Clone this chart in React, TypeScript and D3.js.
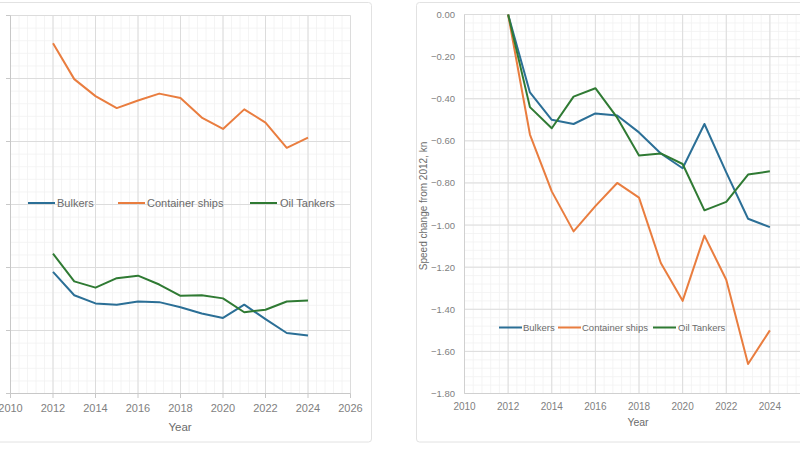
import React from 'react';
import * as d3 from 'd3';

// Years and values
const years = [2012, 2013, 2014, 2015, 2016, 2017, 2018, 2019, 2020, 2021, 2022, 2023, 2024];

// Left chart: average speed, kn (axis labels are cropped out of the picture)
const bulkersSpeed = [10.93, 10.56, 10.43, 10.41, 10.46, 10.45, 10.37, 10.27, 10.2, 10.41, 10.18, 9.96, 9.92];
const containerSpeed = [14.56, 13.99, 13.72, 13.53, 13.65, 13.76, 13.69, 13.38, 13.2, 13.51, 13.3, 12.9, 13.06];
const tankerSpeed = [11.22, 10.78, 10.68, 10.83, 10.87, 10.73, 10.55, 10.56, 10.51, 10.29, 10.33, 10.46, 10.475];

// Right chart: speed change from 2012, kn
const bulkersChange = [0, -0.37, -0.5, -0.52, -0.47, -0.48, -0.56, -0.66, -0.73, -0.52, -0.75, -0.97, -1.01];
const containerChange = [0, -0.57, -0.84, -1.03, -0.91, -0.8, -0.87, -1.18, -1.36, -1.05, -1.26, -1.66, -1.5];
const tankerChange = [0, -0.44, -0.54, -0.39, -0.35, -0.49, -0.67, -0.66, -0.71, -0.93, -0.89, -0.76, -0.745];

const xTicks = [2010, 2012, 2014, 2016, 2018, 2020, 2022, 2024, 2026];
const leftYTicks = [9, 10, 11, 12, 13, 14, 15];
const rightYTicks = [0, -0.2, -0.4, -0.6, -0.8, -1.0, -1.2, -1.4, -1.6, -1.8];

const seriesNames = ['Bulkers', 'Container ships', 'Oil Tankers'];
const colors = ['#2b6f96', '#e97d3f', '#2f7a33'];

const FONT = '"Liberation Sans", Arial, sans-serif';
const MAJOR = '#dcdcdc';
const MINOR = '#f1f1f1';
const TEXT = '#7f7f7f';

function Grid({ x, y, xMinor, yMinor }) {
  const [x0, x1] = x.range();
  const [y0, y1] = y.range();
  return (
    <g>
      {xMinor.map((v, i) => (
        <line key={'xm' + i} x1={x(v)} x2={x(v)} y1={y0} y2={y1} stroke={MINOR} strokeWidth={0.8} />
      ))}
      {yMinor.map((v, i) => (
        <line key={'ym' + i} x1={x0} x2={x1} y1={y(v)} y2={y(v)} stroke={MINOR} strokeWidth={0.8} />
      ))}
      {xTicks.map((v) => (
        <line key={'xM' + v} x1={x(v)} x2={x(v)} y1={y0} y2={y1} stroke={MAJOR} strokeWidth={1} />
      ))}
    </g>
  );
}

function Lines({ x, y, data }) {
  const line = d3.line<number>().x((_, i) => x(years[i])).y((d) => y(d));
  return (
    <g>
      {data.map((s, i) => (
        <path key={i} d={line(s) || ''} fill="none" stroke={colors[i]} strokeWidth={2} strokeLinejoin="round" />
      ))}
    </g>
  );
}

export default function App() {
  // ---- left chart ----
  const xL = d3.scaleLinear().domain([2010, 2026]).range([10.5, 350.5]);
  const yL = d3.scaleLinear().domain([9, 15]).range([393.5, 15.5]);
  const xMinorL = d3.range(2010, 2026.01, 0.4);
  const yMinorL = d3.range(9, 15.01, 0.2);

  // ---- right chart ----
  const xR = d3.scaleLinear().domain([2010, 2026]).range([464.5, 813.5]);
  const yR = d3.scaleLinear().domain([-1.8, 0]).range([393.5, 14.5]);
  const xMinorR = d3.range(2010, 2026.01, 0.4);
  const yMinorR = d3.range(-1.8, 0.001, 0.04);

  const legendL = [
    { lx: 28, tx: 57 },
    { lx: 118, tx: 147 },
    { lx: 250, tx: 280 },
  ];
  const legendR = [
    { lx: 499, tx: 523 },
    { lx: 558, tx: 582 },
    { lx: 653, tx: 678 },
  ];

  return (
    <svg width={800} height={450} style={{ position: 'absolute', left: 0, top: 0, background: '#fff' }} fontFamily={FONT}>
      {/* panels */}
      <rect x={-6} y={2.5} width={377.5} height={439.5} rx={3} fill="#fff" stroke="#e2e2e2" />
      <rect x={416.5} y={2.5} width={400} height={439.5} rx={3} fill="#fff" stroke="#e2e2e2" />

      {/* left chart */}
      <Grid x={xL} y={yL} xMinor={xMinorL} yMinor={yMinorL} />
      {leftYTicks.map((v) => (
        <g key={v}>
          <line x1={xL.range()[0]} x2={xL.range()[1]} y1={yL(v)} y2={yL(v)} stroke={MAJOR} />
          <line x1={6} x2={10.5} y1={yL(v)} y2={yL(v)} stroke="#c8c8c8" />
        </g>
      ))}
      <line x1={10.5} x2={10.5} y1={15.5} y2={393.5} stroke="#c8c8c8" />
      <line x1={10.5} x2={350.5} y1={393.5} y2={393.5} stroke="#c8c8c8" />
      {xTicks.map((v) => (
        <g key={v}>
          <line x1={xL(v)} x2={xL(v)} y1={393.5} y2={398} stroke="#c8c8c8" />
          <text x={xL(v)} y={412} textAnchor="middle" fontSize={11} fill={TEXT}>{v}</text>
        </g>
      ))}
      <text x={180} y={431} textAnchor="middle" fontSize={11.5} fill="#6b6b6b">Year</text>
      <Lines x={xL} y={yL} data={[bulkersSpeed, containerSpeed, tankerSpeed]} />
      {seriesNames.map((n, i) => (
        <g key={n}>
          <line x1={legendL[i].lx} x2={legendL[i].lx + 27} y1={203} y2={203} stroke={colors[i]} strokeWidth={2} />
          <text x={legendL[i].tx} y={207} fontSize={11} fill="#6b6b6b">{n}</text>
        </g>
      ))}

      {/* right chart */}
      <Grid x={xR} y={yR} xMinor={xMinorR} yMinor={yMinorR} />
      {rightYTicks.map((v) => (
        <g key={v}>
          <line x1={xR.range()[0]} x2={xR.range()[1]} y1={yR(v)} y2={yR(v)} stroke={MAJOR} />
          <text x={455} y={yR(v) + 3.5} textAnchor="end" fontSize={9.5} fill={TEXT}>{d3.format('.2f')(v)}</text>
        </g>
      ))}
      <line x1={464.5} x2={464.5} y1={14.5} y2={393.5} stroke="#d0d0d0" />
      <line x1={464.5} x2={813.5} y1={393.5} y2={393.5} stroke="#d0d0d0" />
      {xTicks
        .filter((v) => xR(v) < 790)
        .map((v) => (
          <text key={v} x={xR(v)} y={410} textAnchor="middle" fontSize={10} fill={TEXT}>{v}</text>
        ))}
      <text x={638} y={426} textAnchor="middle" fontSize={10.5} fill="#6b6b6b">Year</text>
      <text transform="translate(427,206) rotate(-90)" textAnchor="middle" fontSize={10} fill="#6b6b6b">
        Speed change from 2012, kn
      </text>
      <Lines x={xR} y={yR} data={[bulkersChange, containerChange, tankerChange]} />
      {seriesNames.map((n, i) => (
        <g key={n}>
          <line x1={legendR[i].lx} x2={legendR[i].lx + 23} y1={327.5} y2={327.5} stroke={colors[i]} strokeWidth={2} />
          <text x={legendR[i].tx} y={331} fontSize={9.5} fill="#6b6b6b">{n}</text>
        </g>
      ))}
    </svg>
  );
}
